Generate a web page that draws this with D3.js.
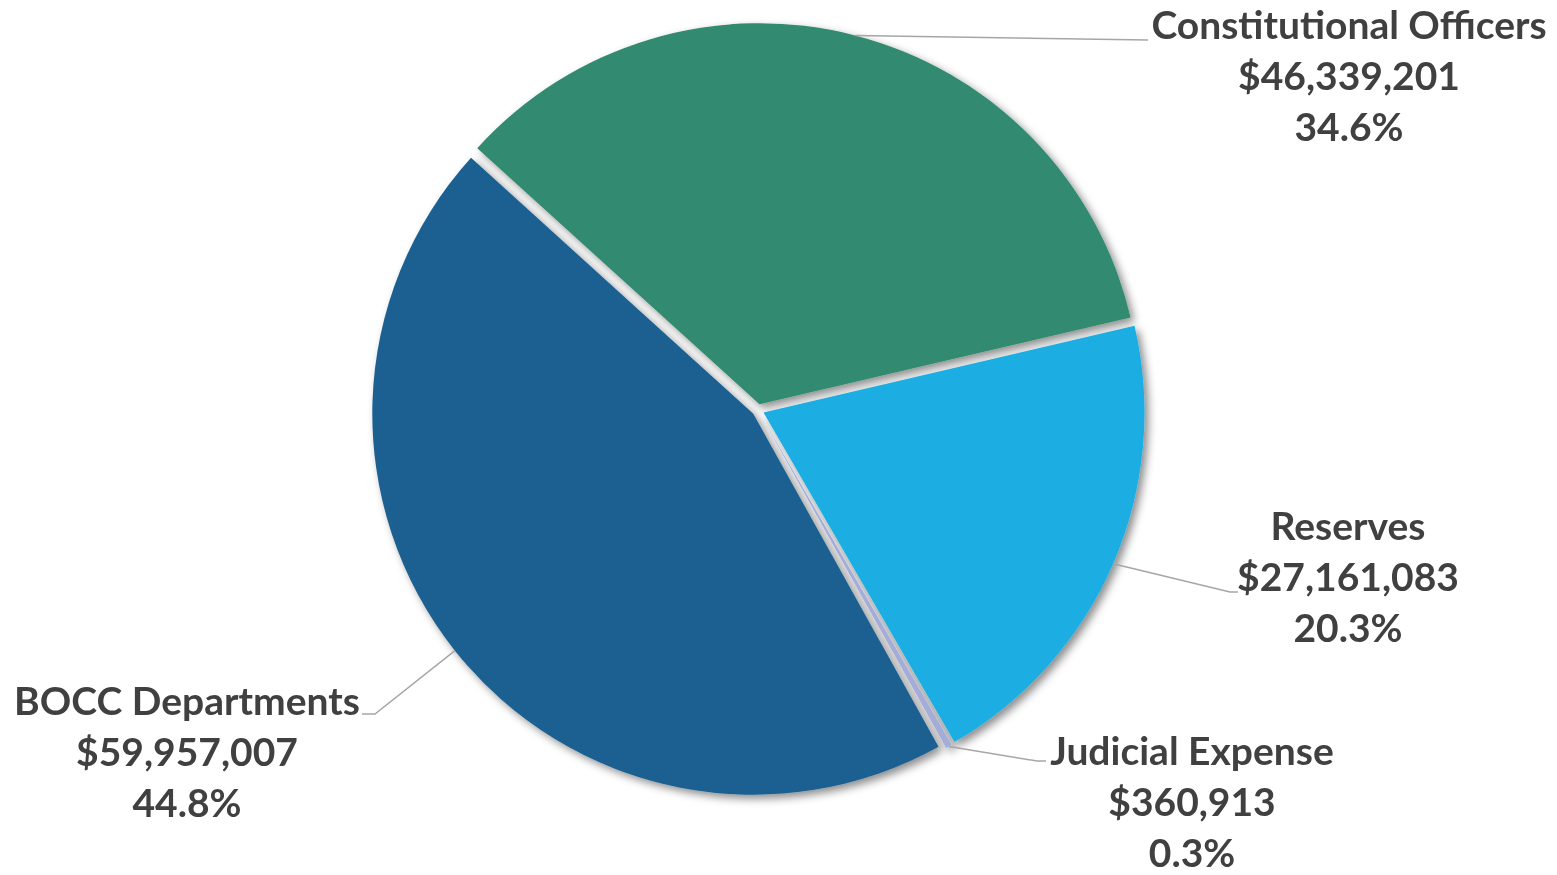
<!DOCTYPE html>
<html>
<head>
<meta charset="utf-8">
<script src="https://cdn.jsdelivr.net/npm/d3@7"></script>
<style>
  html, body { margin: 0; padding: 0; background: #ffffff; }
  svg { display: block; }
</style>
</head>
<body>
<svg id="chart" width="1557" height="875"></svg>
<script>
// Budget allocation by category
const categories = ["Constitutional Officers", "Reserves", "Judicial Expense", "BOCC Departments"];
const amounts = [46339201, 27161083, 360913, 59957007];
const percentLabels = ["34.6%", "20.3%", "0.3%", "44.8%"];
const sliceColors = ["#318a6f", "#1fade3", "#a4acd8", "#1d6092"];

const svg = d3.select("#chart");
const cx = 758, cy = 410, radius = 381, explode = 6;
const startDeg = -47.8;

const defs = svg.append("defs");
const shadow = defs.append("filter").attr("id", "pieShadow")
  .attr("x", "-10%").attr("y", "-10%").attr("width", "120%").attr("height", "120%");
shadow.append("feDropShadow")
  .attr("dx", 4).attr("dy", 4).attr("stdDeviation", 4)
  .attr("flood-color", "#000").attr("flood-opacity", 0.45);

const pie = d3.pie().sort(null).value(d => d.value)
  .startAngle(startDeg * Math.PI / 180)
  .endAngle(startDeg * Math.PI / 180 + 2 * Math.PI);

const data = categories.map((c, i) => ({ name: c, value: amounts[i], pct: percentLabels[i], color: sliceColors[i] }));
const arcs = pie(data);
const arc = d3.arc().innerRadius(0).outerRadius(radius);

const fmt = d3.format("$,");

// Each slice is pulled slightly away from the centre along its mid angle
function offsetFor(a) {
  const m = (a.startAngle + a.endAngle) / 2;
  return [explode * Math.sin(m), -explode * Math.cos(m)];
}

const pieG = svg.append("g").attr("transform", `translate(${cx},${cy})`)
  .attr("filter", "url(#pieShadow)");

pieG.selectAll("path").data(arcs).enter().append("path")
  .attr("d", arc)
  .attr("fill", d => d.data.color)
  .attr("transform", d => { const o = offsetFor(d); return `translate(${o[0]},${o[1]})`; });

// Label placement: text block centre x, first baseline y, and where the leader meets the text
const labelLayout = {
  "Constitutional Officers": { x: 1349, y: 39, end: [[1148, 40]] },
  "Reserves": { x: 1348, y: 540, end: [[1230, 592], [1238, 592]] },
  "Judicial Expense": { x: 1192, y: 765, end: [[1037, 761], [1046, 761]] },
  "BOCC Departments": { x: 187, y: 715, end: [[375, 714], [362, 714]] }
};

const lineGap = 51;
const leadersG = svg.append("g");
const labelsG = svg.append("g");

arcs.forEach(a => {
  const L = labelLayout[a.data.name];
  const o = offsetFor(a);
  const m = (a.startAngle + a.endAngle) / 2;
  const sx = cx + o[0] + radius * Math.sin(m);
  const sy = cy + o[1] - radius * Math.cos(m);
  const pts = [[sx, sy]].concat(L.end);
  leadersG.append("path")
    .attr("d", d3.line()(pts))
    .attr("fill", "none")
    .attr("stroke", "#a6a6a6")
    .attr("stroke-width", 1.5);

  const t = labelsG.append("text")
    .attr("text-anchor", "middle")
    .attr("font-family", "Lato, 'Open Sans', sans-serif")
    .attr("font-weight", "bold")
    .attr("font-size", 34)
    .attr("fill", "#404040");
  [a.data.name, fmt(a.data.value), a.data.pct].forEach((s, k) => {
    t.append("tspan").attr("x", L.x).attr("y", L.y + k * lineGap).text(s);
  });
});

// Fit the type so the longest label line spans its intended width
const probe = labelsG.select("text tspan").node();
const w = probe.getComputedTextLength();
const fs = 34 * 395 / w;
labelsG.selectAll("text").attr("font-size", fs.toFixed(1));
</script>
</body>
</html>
